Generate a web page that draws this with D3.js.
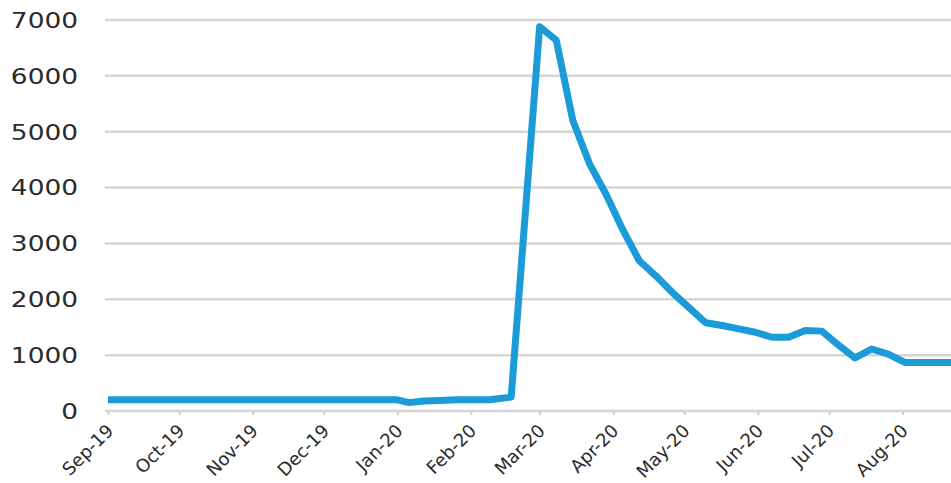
<!DOCTYPE html>
<html>
<head>
<meta charset="utf-8">
<script src="https://cdn.jsdelivr.net/npm/d3@7"></script>
<style>
  body { margin: 0; background: #fff; overflow: hidden; }
  text { font-family: "DejaVu Sans", sans-serif; fill: #2b2b2b; }
</style>
</head>
<body>
<svg id="chart" width="951" height="483"></svg>
<script>
// dates and values
var dates = ["2019-09-01","2019-09-29","2019-10-27","2019-11-24","2019-12-22","2020-01-01",
  "2020-01-06","2020-01-12","2020-01-19","2020-01-26","2020-02-09","2020-02-18",
  "2020-03-01","2020-03-08","2020-03-15","2020-03-22","2020-03-29","2020-04-05",
  "2020-04-12","2020-04-19","2020-04-26","2020-05-03","2020-05-10","2020-05-17",
  "2020-05-24","2020-05-31","2020-06-07","2020-06-14","2020-06-21","2020-06-28",
  "2020-07-05","2020-07-12","2020-07-19","2020-07-26","2020-08-02","2020-08-09",
  "2020-08-16","2020-08-23"];
var values = [200,200,200,200,200,200,
  150,180,190,200,200,250,
  6880,6640,5200,4430,3880,3250,
  2690,2420,2120,1850,1580,1530,
  1470,1410,1320,1320,1440,1430,
  1180,950,1110,1020,870,870,
  870,870];
var yTicks = [0,1000,2000,3000,4000,5000,6000,7000];

var parse = d3.timeParse("%Y-%m-%d");
var data = dates.map(function(d, i){ return {date: parse(d), value: values[i]}; });

var w = 951, h = 483;
var svg = d3.select("#chart");

var x = d3.scaleTime()
    .domain([parse("2019-09-01"), parse("2020-09-01")])
    .range([108, 976]);
var y = d3.scaleLinear()
    .domain([0, 7000])
    .range([411, 20]);

// gridlines
svg.append("g")
    .selectAll("line")
    .data(yTicks)
    .enter()
    .append("line")
    .attr("x1", 105)
    .attr("x2", w)
    .attr("y1", function(d){ return y(d); })
    .attr("y2", function(d){ return y(d); })
    .style("stroke", "#d6d6d6")
    .style("stroke-width", 2.5);

// y labels (the picture is stretched a bit wide, so scale the text)
svg.append("g")
    .selectAll("text")
    .data(yTicks)
    .enter()
    .append("text")
    .attr("transform", function(d){ return "translate(78," + y(d) + ") scale(1.2,1)"; })
    .attr("dy", "0.36em")
    .attr("text-anchor", "end")
    .style("font-size", "22px")
    .text(function(d){ return d; });

// x axis
var xAxis = d3.axisBottom(x)
    .ticks(d3.timeMonth.every(1))
    .tickSize(4)
    .tickFormat(d3.timeFormat("%b-%y"));

var gx = svg.append("g")
    .attr("transform", "translate(0," + y(0) + ")")
    .call(xAxis);
gx.select(".domain").remove();
gx.selectAll(".tick")
    .filter(function(d){ return d > parse("2020-08-15"); })
    .remove();
gx.selectAll(".tick line")
    .style("stroke", "#cfcfcf")
    .style("stroke-width", 2);
gx.selectAll(".tick text")
    .attr("text-anchor", "end")
    .attr("dy", null)
    .attr("y", 0)
    .attr("transform", "translate(6,21) rotate(-45)")
    .style("font-size", "18px")
    .style("fill", "#2b2b2b")
    .style("font-family", "DejaVu Sans, sans-serif");

// the line
var line = d3.line()
    .x(function(d){ return x(d.date); })
    .y(function(d){ return y(d.value); });

svg.append("path")
    .datum(data)
    .attr("d", line)
    .style("fill", "none")
    .style("stroke", "#1b9bd7")
    .style("stroke-width", 7)
    .style("stroke-linejoin", "round");
</script>
</body>
</html>
